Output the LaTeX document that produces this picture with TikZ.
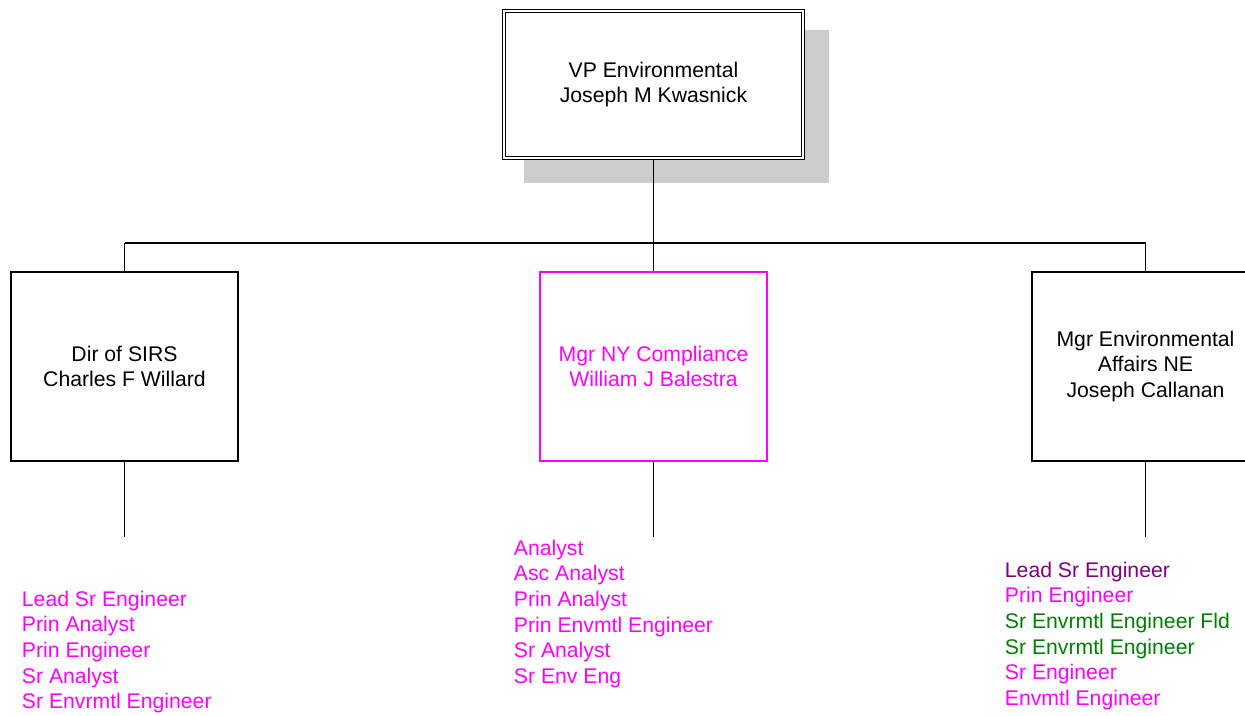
\documentclass[tikz,border=0pt]{standalone}
\usepackage{fontspec}
\setmainfont{Liberation Sans}
\definecolor{mgcolor}{HTML}{FF00FF}
\definecolor{leadcolor}{HTML}{800080}
\definecolor{fldcolor}{HTML}{008000}
\begin{document}
\begin{tikzpicture}[x=0.75pt, y=-0.75pt, line width=1.4pt,
	every node/.style={font=\fontsize{15.9}{19.2}\selectfont},
	orgbox/.style={draw, fill=white, line width=1pt, minimum width=170.25pt, minimum height=141.75pt, align=center, inner sep=0pt},
	stafflist/.style={anchor=north west, align=left, inner sep=0pt, text=mgcolor}]
	\useasboundingbox (0,0) rectangle (1245,715);
	
	\fill[black!20] (524,30) rectangle (829,183);
	\node[draw, fill=white, double, double distance=1.5pt, line width=0.8pt, minimum width=224.25pt, minimum height=110.25pt, align=center] (vp) at (653.5,84.5) {VP Environmental\\Joseph M Kwasnick};
	
	\node[orgbox] (sirs) at (124.5,366.5) {Dir of SIRS\\Charles F Willard};
	\node[orgbox, draw=mgcolor, text=mgcolor] (nyc) at (653.5,366.5) {Mgr NY Compliance\\William J Balestra};
	\node[orgbox] (ne) at (1145.5,366.5) {Mgr Environmental\\Affairs NE\\Joseph Callanan};
	
	\coordinate (busL) at (124.5,243);
	\coordinate (busM) at (653.5,243);
	\coordinate (busR) at (1145.5,243);
	\coordinate (endL) at (124.5,537);
	\coordinate (endM) at (653.5,537);
	\coordinate (endR) at (1145.5,537);
	
	\draw (vp) -- (busM);
	\draw (busL) -- (busR);
	\draw (busL) -- (sirs);
	\draw (busM) -- (nyc);
	\draw (busR) -- (ne);
	\draw (sirs) -- (endL);
	\draw (nyc) -- (endM);
	\draw (ne) -- (endR);
	
	\node[stafflist] (sirsstaff) at (21,590) {Lead Sr Engineer\\Prin Analyst\\Prin Engineer\\Sr Analyst\\Sr Envrmtl Engineer};
	\node[stafflist] (nycstaff) at (513,539) {Analyst\\Asc Analyst\\Prin Analyst\\Prin Envmtl Engineer\\Sr Analyst\\Sr Env Eng};
	\node[stafflist] (nestaff) at (1004,561) {\textcolor{leadcolor}{Lead Sr Engineer}\\Prin Engineer\\\textcolor{fldcolor}{Sr Envrmtl Engineer Fld}\\\textcolor{fldcolor}{Sr Envrmtl Engineer}\\Sr Engineer\\Envmtl Engineer};
\end{tikzpicture}
\end{document}
